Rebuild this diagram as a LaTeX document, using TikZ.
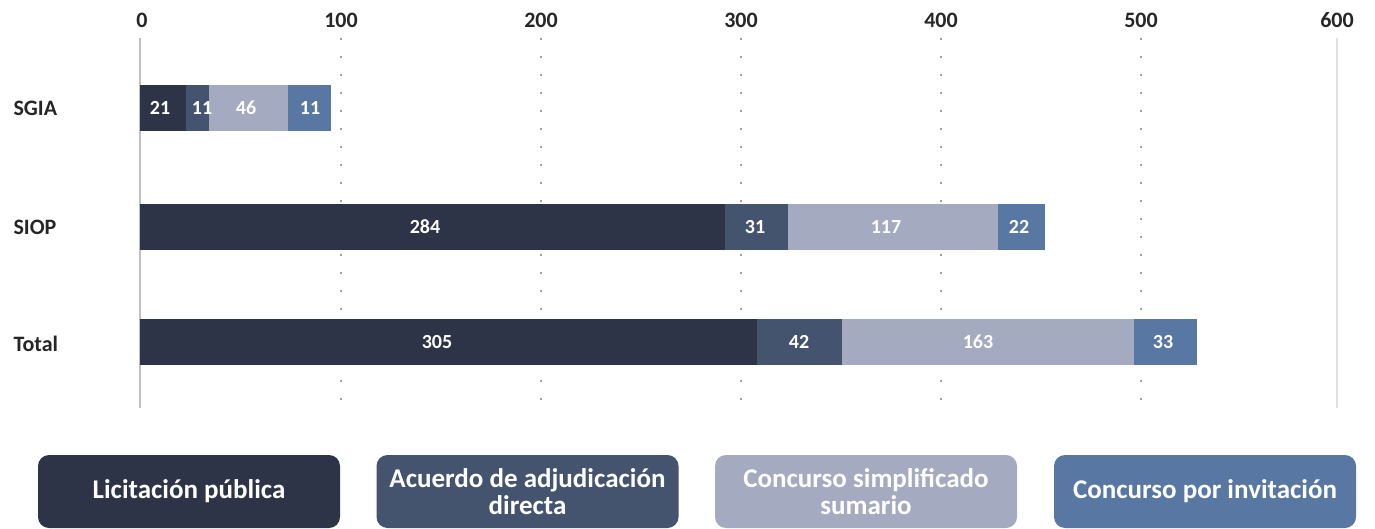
\documentclass[tikz,border=0pt]{standalone}
\usepackage{fontspec}
\setmainfont{Carlito}
\definecolor{cA}{HTML}{2E3447}
\definecolor{cB}{HTML}{44546F}
\definecolor{cC}{HTML}{A4AABF}
\definecolor{cD}{HTML}{5877A3}
\definecolor{txt}{HTML}{262626}
\tikzset{
  ticklab/.style={font=\bfseries\fontsize{22}{24}\selectfont, text=txt, anchor=center},
  catlab/.style={font=\bfseries\fontsize{22}{24}\selectfont, text=txt, anchor=west},
  barlab/.style={font=\bfseries\fontsize{20}{22}\selectfont, text=white, anchor=center},
  grid dots/.style={draw=gray!75, line width=1.6pt, dash pattern=on 1.6pt off 16.4pt},
  legbox/.style={rounded corners=11pt, minimum width=302pt, minimum height=73pt, inner sep=0pt, align=center, text=white, font=\bfseries\fontsize{27}{27}\selectfont}
}
\begin{document}
\begin{tikzpicture}[x=1pt,y=-1pt]
\useasboundingbox (0,0) rectangle (1375,529);
% gridlines
\foreach \gx in {341,541,741,941,1141} {
  \draw[grid dots] (\gx,38) -- (\gx,402);
}
\draw[draw=gray!50, line width=2pt] (140,38) -- (140,408);
\draw[draw=gray!25, line width=1.5pt] (1337,38) -- (1337,408);
% tick labels
\node[ticklab] (t0) at (142,20) {0};
\node[ticklab] (t1) at (341,20) {100};
\node[ticklab] (t2) at (541,20) {200};
\node[ticklab] (t3) at (741,20) {300};
\node[ticklab] (t4) at (941,20) {400};
\node[ticklab] (t5) at (1141,20) {500};
\node[ticklab] (t6) at (1337,20) {600};
% category labels
\node[catlab] (cSGIA) at (10,108) {SGIA};
\node[catlab] (cSIOP) at (10,227) {SIOP};
\node[catlab] (cTot) at (10,344) {Total};
% SGIA bar
\fill[cA] (140,85) rectangle (186,131);
\fill[cB] (186,85) rectangle (209,131);
\fill[cC] (209,85) rectangle (288,131);
\fill[cD] (288,85) rectangle (331,131);
\node[barlab] (s1) at (160,108) {21};
\node[barlab] (s2) at (202,108) {11};
\node[barlab] (s3) at (246,108) {46};
\node[barlab] (s4) at (310,108) {11};
% SIOP bar
\fill[cA] (140,204) rectangle (725,250);
\fill[cB] (725,204) rectangle (788,250);
\fill[cC] (788,204) rectangle (998,250);
\fill[cD] (998,204) rectangle (1045,250);
\node[barlab] (p1) at (425,227) {284};
\node[barlab] (p2) at (755,227) {31};
\node[barlab] (p3) at (886,227) {117};
\node[barlab] (p4) at (1019,227) {22};
% Total bar
\fill[cA] (140,319) rectangle (757,365);
\fill[cB] (757,319) rectangle (842,365);
\fill[cC] (842,319) rectangle (1134,365);
\fill[cD] (1134,319) rectangle (1197,365);
\node[barlab] (q1) at (437,342) {305};
\node[barlab] (q2) at (799,342) {42};
\node[barlab] (q3) at (978,342) {163};
\node[barlab] (q4) at (1163,342) {33};
% legend
\node[legbox, fill=cA] (l1) at (189,491.5) {Licitación pública};
\node[legbox, fill=cB] (l2) at (527.5,491.5) {Acuerdo de adjudicación\\directa};
\node[legbox, fill=cC] (l3) at (866,491.5) {Concurso simplificado\\sumario};
\node[legbox, fill=cD] (l4) at (1205,491.5) {Concurso por invitación};
\end{tikzpicture}
\end{document}
